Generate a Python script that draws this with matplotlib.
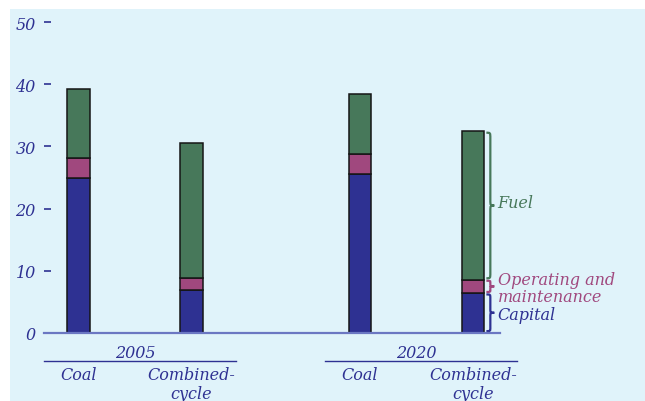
import matplotlib
matplotlib.use("Agg")
import matplotlib.pyplot as plt
from matplotlib.patches import Rectangle, PathPatch
from matplotlib.path import Path

# data
years = ["2005", "2020"]
techs = ["Coal", "Combined-\ncycle"]
capital = [25.0, 6.9, 25.5, 6.5]
om = [3.2, 2.0, 3.2, 2.0]
fuel = [11.0, 21.6, 9.7, 23.9]
components = ["Capital", "Operating and\nmaintenance", "Fuel"]

c_cap = "#2e3192"
c_om = "#a0487e"
c_fuel = "#47785a"
c_text = "#2e3192"
c_bg = "#e0f3fa"

plt.rcParams["font.family"] = "DejaVu Serif"
plt.rcParams["font.style"] = "italic"
plt.rcParams["font.size"] = 11.5

fig = plt.figure(figsize=(6.45, 4.02), dpi=100, facecolor="white")
fig.patches.append(Rectangle((10 / 645, 0), 1, 392 / 402, transform=fig.transFigure,
                             facecolor=c_bg, edgecolor="none", zorder=-10))
ax = fig.add_axes([44 / 645, 68 / 402, 469.5 / 645, 311 / 402])
ax.set_facecolor("none")

xpos = [0, 1, 2.49, 3.49]
w = 0.2
bot2 = [a + b for a, b in zip(capital, om)]
kw = dict(width=w, edgecolor="#151515", linewidth=1.1, zorder=2)
ax.bar(xpos, capital, color=c_cap, **kw)
ax.bar(xpos, om, bottom=capital, color=c_om, **kw)
ax.bar(xpos, fuel, bottom=bot2, color=c_fuel, **kw)

ax.set_xlim(-0.305, 3.85)
ax.set_ylim(0, 50)
for s in ax.spines.values():
    s.set_visible(False)
ax.set_xticks([])
ax.set_yticks([0, 10, 20, 30, 40, 50])
ax.tick_params(axis="y", direction="in", length=5, width=1.2, color=c_text,
               labelcolor=c_text, pad=6)
ax.plot([-0.305, 3.73], [0, 0], color="#6b77c2", lw=1.6, zorder=3, clip_on=False)

# group labels below axis
for g, yr in enumerate(years):
    x0, x1 = xpos[2 * g], xpos[2 * g + 1]
    ax.plot([x0 - 0.305, x1 + 0.39], [-4.5, -4.5], color=c_text, lw=1.0, clip_on=False)
    ax.text((x0 + x1) / 2, -3.1, yr, ha="center", va="center", color=c_text)
    for k, t in enumerate(techs):
        ax.text(xpos[2 * g + k], -5.3, t, ha="center", va="top", color=c_text,
                linespacing=1.15)


def brace(x0, y0, y1, width, r, color):
    xm = x0 + width / 2
    ym = (y0 + y1) / 2
    verts = [(x0, y0), (xm, y0), (xm, y0), (xm, y0 + r),
             (xm, ym - r),
             (xm, ym), (xm, ym), (x0 + width, ym),
             (xm, ym), (xm, ym), (xm, ym + r),
             (xm, y1 - r),
             (xm, y1), (xm, y1), (x0, y1)]
    codes = [Path.MOVETO, Path.CURVE4, Path.CURVE4, Path.CURVE4,
             Path.LINETO,
             Path.CURVE4, Path.CURVE4, Path.CURVE4,
             Path.CURVE4, Path.CURVE4, Path.CURVE4,
             Path.LINETO,
             Path.CURVE4, Path.CURVE4, Path.CURVE4]
    ax.add_patch(PathPatch(Path(verts, codes), facecolor="none", edgecolor=color,
                           lw=1.6, clip_on=False))


last = 3
bx = xpos[last] + w / 2 + 0.02
bw = 0.07
brace(bx, 0.3, capital[last] - 0.3, bw, 0.6, c_cap)
brace(bx, capital[last] + 0.1, bot2[last] - 0.1, bw, 0.35, c_om)
brace(bx, bot2[last] + 0.3, bot2[last] + fuel[last] - 0.2, bw, 0.9, c_fuel)

tx = 3.71
ax.text(tx, 2.9, components[0], ha="left", va="center", color=c_cap)
ax.text(tx, 7.25, components[1], ha="left", va="center", color=c_om, linespacing=0.95)
ax.text(tx, 21.0, components[2], ha="left", va="center", color=c_fuel)

fig.savefig("out.png", dpi=100, facecolor="white")
